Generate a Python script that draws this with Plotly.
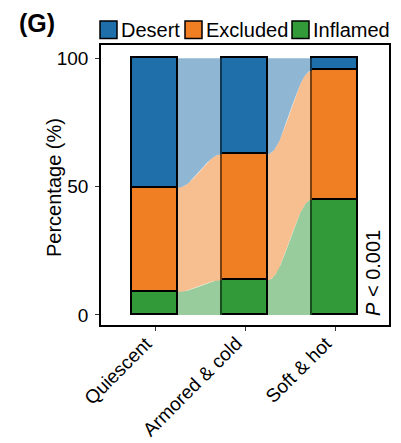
import numpy as np
import plotly.graph_objects as go

categories = ["Quiescent", "Armored & cold", "Soft & hot"]
series_names = ["Inflamed", "Excluded", "Desert"]  # bottom to top
inflamed = [9.0, 13.6, 45.0]
excluded = [40.6, 49.1, 50.3]
desert = [50.4, 37.3, 4.7]
y_ticks = [0, 50, 100]
colors = {"Desert": "#1F70AA", "Excluded": "#F07E22", "Inflamed": "#339A3A"}
flow_colors = {"Desert": "rgba(31,112,170,0.5)", "Excluded": "rgba(240,126,34,0.5)",
               "Inflamed": "rgba(51,154,58,0.5)"}
legend_order = ["Desert", "Excluded", "Inflamed"]
p_text = "<i>P</i> < 0.001"

values = {"Inflamed": inflamed, "Excluded": excluded, "Desert": desert}
xs = np.arange(1, len(categories) + 1)
bar_w = 0.51

# cumulative bounds
bottoms = {}
tops = {}
cum = np.zeros(len(categories))
for name in series_names:
    v = np.array(values[name])
    bottoms[name] = cum.copy()
    tops[name] = cum + v
    cum = cum + v

fig = go.Figure()

# flows
t = np.linspace(0, 1, 60)
s = (1 - np.cos(np.pi * t)) / 2
for name in series_names:
    for i in range(len(categories) - 1):
        x1 = xs[i] + bar_w / 2
        x2 = xs[i + 1] - bar_w / 2
        xc = x1 + (x2 - x1) * t
        top = tops[name][i] + (tops[name][i + 1] - tops[name][i]) * s
        bot = bottoms[name][i] + (bottoms[name][i + 1] - bottoms[name][i]) * s
        fig.add_trace(go.Scatter(
            x=np.concatenate([xc, xc[::-1]]),
            y=np.concatenate([top, bot[::-1]]),
            fill="toself", fillcolor=flow_colors[name], mode="lines",
            line=dict(width=0), hoverinfo="skip", showlegend=False))

# bars
for name in series_names:
    fig.add_trace(go.Bar(
        x=xs, y=values[name], width=bar_w, name=name,
        marker=dict(color=colors[name], line=dict(color="black", width=1.6)),
        showlegend=False))

W, H = 401, 443
L, R, T, B = 101, 12, 45, 118
pw, ph = W - L - R, H - T - B


def px(xp):
    return (xp - L) / pw


def py(yp):
    return (H - B - yp) / ph


shapes = []
annotations = []
leg_x = [100, 185, 292]
for name, lx in zip(legend_order, leg_x):
    shapes.append(dict(type="rect", xref="paper", yref="paper",
                       x0=px(lx), x1=px(lx + 17), y0=py(38.5), y1=py(21),
                       fillcolor=colors[name], line=dict(color="black", width=1.5)))
    annotations.append(dict(xref="paper", yref="paper", x=px(lx + 19), y=py(30),
                            text=name, showarrow=False, xanchor="left", yanchor="middle",
                            font=dict(size=20, color="black")))

# category labels (rotated)
for xv, lab in zip(xs, categories):
    annotations.append(dict(xref="x", yref="paper", x=float(xv), y=0, xshift=4, yshift=-5,
                            text=lab, showarrow=False, textangle=-45,
                            xanchor="right", yanchor="top",
                            font=dict(size=19, color="black")))

annotations.append(dict(xref="paper", yref="paper", x=px(37), y=py(23),
                        text="<b>(G)</b>", showarrow=False, xanchor="center", yanchor="middle",
                        font=dict(size=25, color="black")))
annotations.append(dict(xref="paper", yref="paper", x=px(373), y=py(273),
                        text=p_text, showarrow=False, textangle=-90,
                        xanchor="center", yanchor="middle",
                        font=dict(size=20, color="black")))
annotations.append(dict(xref="paper", yref="paper", x=px(54), y=py(188),
                        text="Percentage (%)", showarrow=False, textangle=-90,
                        xanchor="center", yanchor="middle",
                        font=dict(size=20, color="black")))

fig.update_layout(
    width=W, height=H, margin=dict(l=L, r=R, t=T, b=B, pad=0),
    barmode="stack", bargap=0,
    plot_bgcolor="white", paper_bgcolor="white",
    font=dict(family="Liberation Sans, Arial, sans-serif", color="black"),
    shapes=shapes, annotations=annotations,
    xaxis=dict(range=[0.4, 3.6], tickvals=list(xs), showticklabels=False,
               ticks="outside", ticklen=4, tickwidth=1, tickcolor="#333",
               showline=True, mirror=True, linecolor="black", linewidth=1.6,
               showgrid=False, zeroline=False, automargin=False),
    yaxis=dict(range=[-3.9, 105.2], tickvals=y_ticks, ticks="outside", ticklen=4,
               tickwidth=1, tickcolor="#333",
               showline=True, mirror=True, linecolor="black", linewidth=1.6,
               showgrid=False, zeroline=False, tickfont=dict(size=19, color="black"),
               ticklabelstandoff=3, automargin=False),
)

fig.write_html("out.html")
